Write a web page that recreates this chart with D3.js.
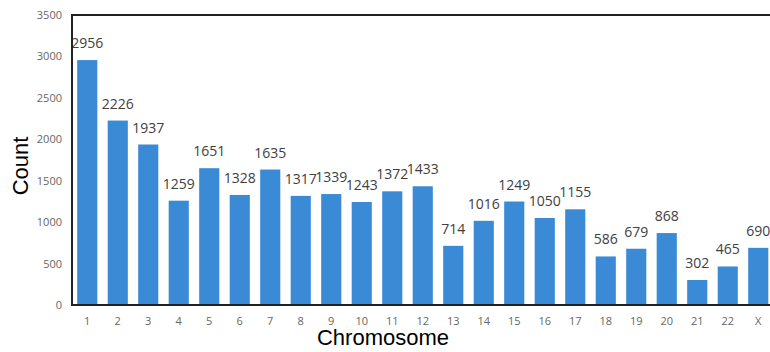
<!DOCTYPE html>
<html>
<head>
<meta charset="utf-8">
<script src="https://cdn.jsdelivr.net/npm/d3@7"></script>
<style>
body { margin: 0; background: #fff; }
</style>
</head>
<body>
<script>
const w = 770
const h = 352

const chromosomes = ["1","2","3","4","5","6","7","8","9","10","11","12","13","14","15","16","17","18","19","20","21","22","X"]
const counts = [2956,2226,1937,1259,1651,1328,1635,1317,1339,1243,1372,1433,714,1016,1249,1050,1155,586,679,868,302,465,690]
const yTicks = [0,500,1000,1500,2000,2500,3000,3500]

const plotLeft = 72, plotTop = 15, plotBottom = 305, plotRight = 773.5

let svg = d3.select("body")
	.append("svg")
	.attr("width", w)
	.attr("height", h)

let xScale = d3.scaleBand()
	.domain(chromosomes)
	.range([plotLeft, plotRight])
	.paddingInner(0.34)
	.paddingOuter(0.17)

let yScale = d3.scaleLinear()
	.domain([0, 3500])
	.range([plotBottom, plotTop])

// bars
svg.selectAll("rect")
	.data(counts)
	.enter()
	.append("rect")
	.attr("x", (d, i) => xScale(chromosomes[i]))
	.attr("y", d => yScale(d))
	.attr("width", xScale.bandwidth())
	.attr("height", d => plotBottom - yScale(d))
	.attr("fill", "#3a8ad6")

// value labels
svg.selectAll("text.val")
	.data(counts)
	.enter()
	.append("text")
	.attr("class", "val")
	.attr("x", (d, i) => xScale(chromosomes[i]) + xScale.bandwidth() / 2)
	.attr("y", d => yScale(d) - 12)
	.attr("text-anchor", "middle")
	.attr("font-family", "Open Sans, sans-serif")
	.attr("font-size", 14)
	.attr("fill", "#404040")
	.text(d => d)

// axes
let yAxis = d3.axisLeft(yScale).tickValues(yTicks).tickFormat(d3.format("d")).tickSize(0).tickPadding(10)
let gy = svg.append("g")
	.attr("transform", "translate(" + plotLeft + ",0)")
	.call(yAxis)
gy.select(".domain").remove()
gy.selectAll("text")
	.attr("font-family", "Open Sans, sans-serif")
	.attr("font-size", 11)
	.attr("fill", "#666")

let xAxis = d3.axisBottom(xScale).tickSize(0).tickPadding(12)
let gx = svg.append("g")
	.attr("transform", "translate(0," + plotBottom + ")")
	.call(xAxis)
gx.select(".domain").remove()
gx.selectAll("text")
	.attr("font-family", "Open Sans, sans-serif")
	.attr("font-size", 11)
	.attr("fill", "#666")

// frame lines: left, bottom, top
svg.append("path")
	.attr("d", "M" + w + "," + plotTop + "H" + plotLeft + "V" + plotBottom + "H" + w)
	.attr("fill", "none")
	.attr("stroke", "#222")
	.attr("stroke-width", 2)

// titles
svg.append("text")
	.attr("x", 383)
	.attr("y", 345)
	.attr("text-anchor", "middle")
	.attr("font-family", "Liberation Sans, Arial, sans-serif")
	.attr("font-size", 22)
	.attr("fill", "#000")
	.text("Chromosome")

svg.append("text")
	.attr("transform", "translate(28,166) rotate(-90)")
	.attr("text-anchor", "middle")
	.attr("font-family", "Liberation Sans, Arial, sans-serif")
	.attr("font-size", 22)
	.attr("fill", "#000")
	.text("Count")
</script>
</body>
</html>
